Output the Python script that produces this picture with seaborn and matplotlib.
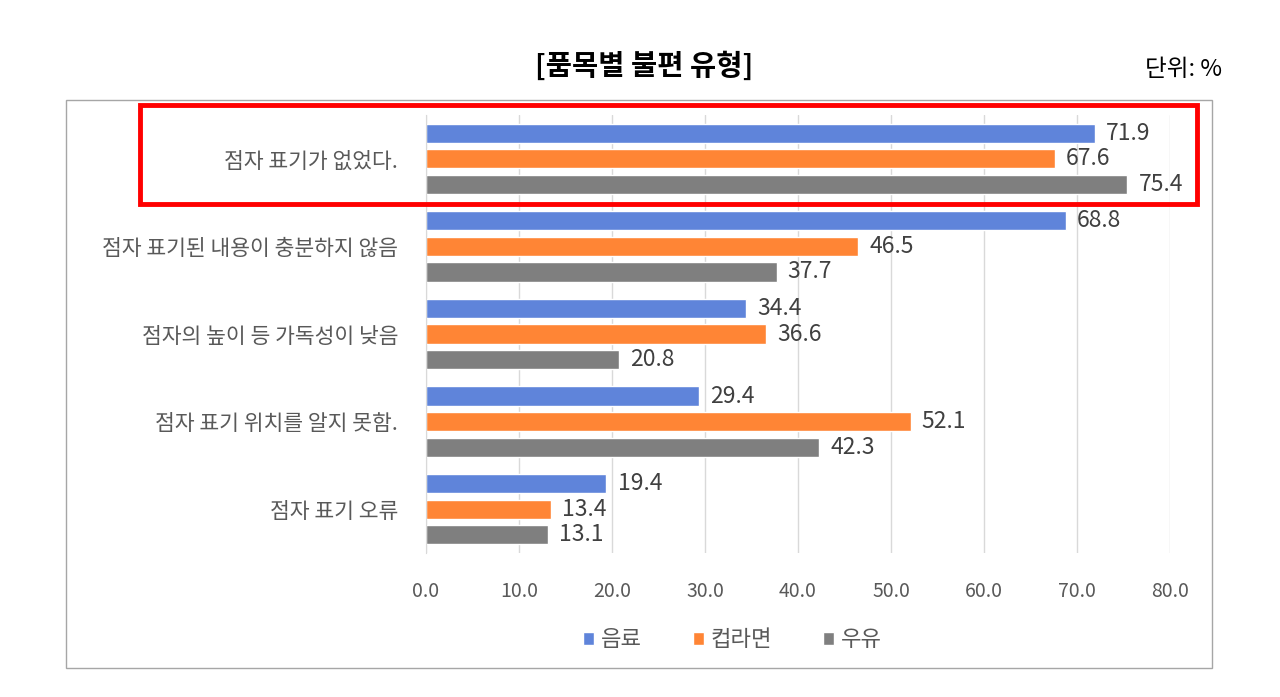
import pandas as pd
import seaborn as sns
import matplotlib.pyplot as plt
from matplotlib.patches import Rectangle

# Data
categories = ["점자 표기가 없었다.", "점자 표기된 내용이 충분하지 않음", "점자의 높이 등 가독성이 낮음",
              "점자 표기 위치를 알지 못함.", "점자 표기 오류"]
series_names = ["음료", "컵라면", "우유"]
drink = [71.9, 68.8, 34.4, 29.4, 19.4]
ramen = [67.6, 46.5, 36.6, 52.1, 13.4]
milk = [75.4, 37.7, 20.8, 42.3, 13.1]
x_ticks = [0, 10, 20, 30, 40, 50, 60, 70, 80]

colors = ["#5F84DA", "#FF8535", "#7F7F7F"]

rows = []
for name, vals in zip(series_names, [drink, ramen, milk]):
    for cat, v in zip(categories, vals):
        rows.append({"항목": cat, "품목": name, "값": v})
df = pd.DataFrame(rows)

sns.set_style("white")
plt.rcParams['font.family'] = ['Noto Sans CJK KR', 'DejaVu Sans']

fig = plt.figure(figsize=(12.8, 6.97), dpi=100)
ax = fig.add_axes([0.3328, 0.2066, 0.5813, 0.6283])

sns.barplot(data=df, y="항목", x="값", hue="품목", order=categories,
            hue_order=series_names, palette=colors, saturation=1, orient="h",
            width=0.875, gap=0.25, ax=ax, legend=True)

for cont in ax.containers:
    ax.bar_label(cont, fmt="%.1f", padding=8, fontsize=16.5, color="#404040")

ax.set_xlim(0, 80)
ax.set_ylim(4.5, -0.5)
ax.set_xticks(x_ticks)
ax.set_xticklabels([f"{t:.1f}" for t in x_ticks])
ax.tick_params(axis="x", length=0, pad=20, labelsize=14, labelcolor="#595959")
ax.tick_params(axis="y", length=0, pad=20, labelsize=15.5, labelcolor="#595959")
ax.set_xlabel("")
ax.set_ylabel("")
ax.grid(axis="x", color="#D9D9D9", linewidth=1)
ax.set_axisbelow(True)
for s in ["top", "right", "bottom"]:
    ax.spines[s].set_visible(False)
ax.spines["left"].set_color("#D9D9D9")

handles, labels = ax.get_legend_handles_labels()
ax.legend(handles, labels, loc="center", bbox_to_anchor=(0.572, 0.082),
          bbox_transform=fig.transFigure, ncol=3, frameon=False,
          fontsize=16, labelcolor="#595959", handlelength=0.5, handleheight=0.5,
          handletextpad=0.3, columnspacing=2.3)

# Title and unit
fig.text(0.503, 0.905, "[품목별 불편 유형]", ha="center", va="center",
         fontsize=20.5, fontweight="bold", color="black")
fig.text(0.955, 0.9, "단위: %", ha="right", va="center", fontsize=17, color="black")

# Outer chart border
fig.patches.append(Rectangle((66 / 1280, 1 - 668 / 697), (1212 - 66) / 1280, (668 - 100) / 697,
                             transform=fig.transFigure, fill=False, edgecolor="#A6A6A6", linewidth=1))
# Red highlight box
fig.patches.append(Rectangle((140 / 1280, 1 - 204 / 697), (1197 - 140) / 1280, (204 - 105) / 697,
                             transform=fig.transFigure, fill=False, edgecolor="#FF0000", linewidth=3.5,
                             zorder=5))

fig.savefig("out.png", dpi=100, facecolor="white")
